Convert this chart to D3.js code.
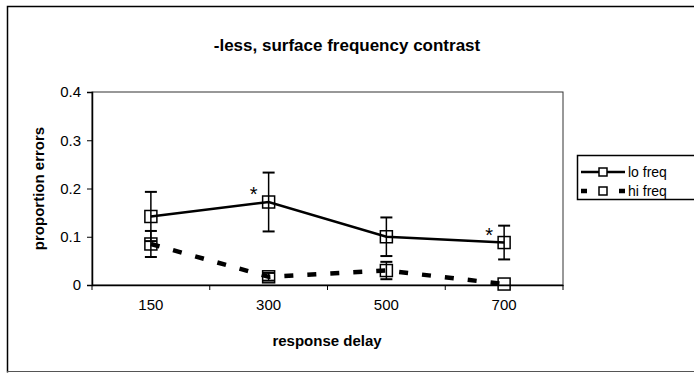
<!DOCTYPE html>
<html>
<head>
<meta charset="utf-8">
<script src="https://cdn.jsdelivr.net/npm/d3@7"></script>
<style>
  body { margin: 0; background: #fff; }
  text { font-family: "Liberation Sans", Arial, sans-serif; fill: #000; }
</style>
</head>
<body>
<svg id="chart" width="694" height="373"></svg>
<script>
var delays = ["150", "300", "500", "700"];
var yTicks = [0, 0.1, 0.2, 0.3, 0.4];
var loFreq = [0.142, 0.172, 0.100, 0.088];
var loErr = [0.051, 0.061, 0.040, 0.035];
var hiFreq = [0.085, 0.017, 0.030, 0.002];
var hiErr = [0.027, 0.008, 0.018, 0];
var starred = ["300", "700"];

var svg = d3.select("#chart");
var margin = { left: 92, top: 92, right: 563, bottom: 285 };

// outer frame
svg.append("path")
    .attr("d", "M7.5,372.5 V6.5 H694")
    .attr("fill", "none").attr("stroke", "#000").attr("stroke-width", 1.5);
svg.append("line")
    .attr("x1", 7).attr("x2", 694).attr("y1", 371.5).attr("y2", 371.5)
    .attr("stroke", "#555").attr("stroke-width", 1);

svg.append("text")
    .attr("x", 347).attr("y", 51)
    .attr("text-anchor", "middle")
    .style("font-size", "17px").style("font-weight", "bold")
    .text("-less, surface frequency contrast");

var x = d3.scaleBand().domain(delays).range([margin.left, margin.right]);
var y = d3.scaleLinear().domain([0, 0.4]).range([margin.bottom, margin.top]);
var cx = function (d) { return x(d) + x.bandwidth() / 2; };

// plot area border
svg.append("rect")
    .attr("x", margin.left).attr("y", margin.top)
    .attr("width", margin.right - margin.left).attr("height", margin.bottom - margin.top)
    .attr("fill", "none").attr("stroke", "#333").attr("stroke-width", 1);

var yAxis = svg.append("g")
    .attr("transform", "translate(" + margin.left + ",0)")
    .call(d3.axisLeft(y).tickValues(yTicks).tickSize(5).tickPadding(6)
        .tickFormat(function (d) { return d === 0 ? "0" : d3.format(".1f")(d); }));
yAxis.selectAll("text").style("font-size", "15px");
yAxis.select(".domain").attr("stroke-width", 1.5);

var xAxis = svg.append("g")
    .attr("transform", "translate(0," + margin.bottom + ")")
    .call(d3.axisBottom(x).tickSize(0).tickPadding(14));
xAxis.selectAll("text").style("font-size", "15px");
xAxis.select(".domain").attr("stroke-width", 1.5);
// tick marks between categories
svg.selectAll("line.xtick")
    .data(delays.concat(["end"]))
    .enter().append("line")
    .attr("class", "xtick")
    .attr("x1", function (d, i) { return margin.left + i * x.bandwidth(); })
    .attr("x2", function (d, i) { return margin.left + i * x.bandwidth(); })
    .attr("y1", margin.bottom).attr("y2", margin.bottom + 5)
    .attr("stroke", "#000");

svg.append("text")
    .attr("x", 327).attr("y", 346)
    .attr("text-anchor", "middle")
    .style("font-size", "15px").style("font-weight", "bold")
    .text("response delay");

svg.append("text")
    .attr("transform", "translate(44," + ((margin.top + margin.bottom) / 2) + ") rotate(-90)")
    .attr("text-anchor", "middle")
    .style("font-size", "15px").style("font-weight", "bold")
    .text("proportion errors");

function drawSeries(vals, errs, dash, width) {
    var line = d3.line()
        .x(function (d, i) { return cx(delays[i]); })
        .y(function (d) { return y(d); });
    svg.append("path")
        .datum(vals)
        .attr("d", line)
        .attr("fill", "none").attr("stroke", "#000")
        .attr("stroke-width", width)
        .attr("stroke-dasharray", dash);

    var g = svg.append("g");
    vals.forEach(function (v, i) {
        var px = cx(delays[i]);
        if (errs[i] > 0) {
            g.append("line")
                .attr("x1", px).attr("x2", px)
                .attr("y1", y(v + errs[i])).attr("y2", y(v - errs[i]))
                .attr("stroke", "#000").attr("stroke-width", 1.5);
            [v + errs[i], v - errs[i]].forEach(function (e) {
                g.append("line")
                    .attr("x1", px - 6).attr("x2", px + 6)
                    .attr("y1", y(e)).attr("y2", y(e))
                    .attr("stroke", "#000").attr("stroke-width", 2);
            });
        }
        g.append("rect")
            .attr("x", px - 6).attr("y", y(v) - 6)
            .attr("width", 12).attr("height", 12)
            .attr("fill", "none")
            .attr("stroke", "#000").attr("stroke-width", 1.5);
    });
}

drawSeries(hiFreq, hiErr, "9,14", 4.5);
drawSeries(loFreq, loErr, null, 2.5);

// significance stars
starred.forEach(function (d) {
    var i = delays.indexOf(d);
    svg.append("text")
        .attr("x", cx(d) - 15).attr("y", y(loFreq[i]) - 1)
        .attr("text-anchor", "middle")
        .style("font-size", "20px")
        .text("*");
});

// legend
var lg = svg.append("g").attr("transform", "translate(577,155)");
lg.append("rect")
    .attr("x", 0.5).attr("y", 0.5).attr("width", 120).attr("height", 44)
    .attr("fill", "#fff").attr("stroke", "#000").attr("stroke-width", 1.5);
var legendItems = [
    { name: "lo freq", dash: null, w: 2.5 },
    { name: "hi freq", dash: "6,13", w: 4.5 }
];
legendItems.forEach(function (it, i) {
    var ly = 17 + i * 19;
    lg.append("line")
        .attr("x1", 4).attr("x2", 48).attr("y1", ly).attr("y2", ly)
        .attr("stroke", "#000").attr("stroke-width", it.w)
        .attr("stroke-dasharray", it.dash);
    lg.append("rect")
        .attr("x", 22).attr("y", ly - 4).attr("width", 8).attr("height", 8)
        .attr("fill", "#fff").attr("stroke", "#000").attr("stroke-width", 1.5);
    lg.append("text")
        .attr("x", 51).attr("y", ly + 5)
        .style("font-size", "14px")
        .text(it.name);
});
</script>
</body>
</html>
